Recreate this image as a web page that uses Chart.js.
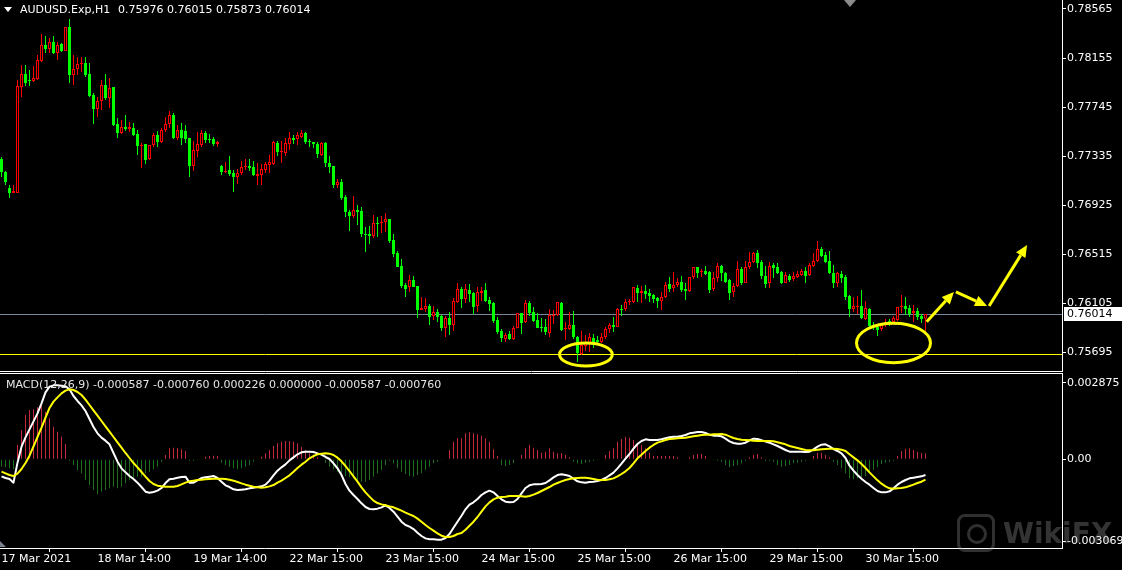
<!DOCTYPE html>
<html><head><meta charset="utf-8">
<script src="https://cdn.jsdelivr.net/npm/chart.js@4.4.1/dist/chart.umd.min.js"></script>
<style>
html,body{margin:0;padding:0;background:#000;overflow:hidden;}
body{width:1122px;height:570px;position:relative;font-family:"DejaVu Sans",sans-serif;}
canvas{position:absolute;left:0;}
#top{top:0;}
#bot{top:372px;}
.t{position:absolute;color:#fff;font-size:11px;line-height:13px;white-space:pre;}
#tri{position:absolute;left:4px;top:7px;width:0;height:0;border-left:4px solid transparent;border-right:4px solid transparent;border-top:5px solid #fff;}
#shift{position:absolute;left:844px;top:0;width:0;height:0;border-left:6px solid transparent;border-right:6px solid transparent;border-top:7px solid #8c8c8c;}
#corner{position:absolute;left:0;top:541px;width:0;height:0;border-bottom:6px solid #7a8290;border-right:6px solid transparent;}
#wm{position:absolute;left:957px;top:514px;opacity:0.3;}
#wm .ico{position:absolute;left:0;top:0;width:32px;height:32px;border:3px solid #a0a0a0;border-radius:8px;}
#wm .ico:after{content:"";position:absolute;left:7px;top:7px;width:14px;height:14px;border:3px solid #a0a0a0;border-radius:50%;}
#wm .w{position:absolute;left:46px;top:3px;font:bold 28px "DejaVu Sans",sans-serif;color:#a8a8a8;white-space:pre;}
</style></head>
<body>
<canvas id="top" width="1122" height="372"></canvas>
<canvas id="bot" width="1122" height="198"></canvas>
<div id="tri"></div>
<div class="t" style="left:20px;top:3px;">AUDUSD.Exp,H1</div>
<div class="t" style="left:118px;top:3px;">0.75976 0.76015 0.75873 0.76014</div>
<div class="t" style="left:6px;top:378px;color:#e6e6e6;">MACD(12,26,9) -0.000587 -0.000760 0.000226 0.000000 -0.000587 -0.000760</div>
<div id="shift"></div>
<div id="corner"></div>
<div id="wm"><div class="ico"></div><div class="w">WikiFX</div></div>
<script>
// ---- AUDUSD H1 candles (17 Mar 2021 14:00 -> 31 Mar 2021) ----
const opens = [0.77311,0.77202,0.77068,0.77026,0.77026,0.77913,0.78021,0.77971,0.77963,0.77980,
0.78130,0.78264,0.78230,0.78289,0.78197,0.78272,0.78214,0.78414,0.78013,0.78063,
0.78105,0.78113,0.78021,0.77846,0.77729,0.77796,0.77929,0.77821,0.77913,0.77603,
0.77528,0.77578,0.77562,0.77570,0.77520,0.77419,0.77436,0.77311,0.77428,0.77511,
0.77453,0.77553,0.77603,0.77679,0.77486,0.77553,0.77545,0.77486,0.77252,0.77378,
0.77428,0.77528,0.77478,0.77478,0.77436,0.77252,0.77202,0.77219,0.77194,0.77160,
0.77194,0.77244,0.77252,0.77244,0.77169,0.77177,0.77219,0.77260,0.77269,0.77445,
0.77369,0.77361,0.77436,0.77486,0.77478,0.77495,0.77528,0.77462,0.77453,0.77436,
0.77344,0.77445,0.77277,0.77252,0.77093,0.77118,0.76993,0.76868,0.76834,0.76884,
0.76876,0.76684,0.76684,0.76667,0.76776,0.76776,0.76784,0.76809,0.76634,0.76525,
0.76416,0.76257,0.76241,0.76299,0.76249,0.76048,0.76057,0.76082,0.75998,0.76032,
0.75998,0.75898,0.75982,0.75923,0.76115,0.76224,0.76140,0.76216,0.76191,0.76082,
0.76191,0.76216,0.76132,0.76107,0.75965,0.75873,0.75806,0.75848,0.75806,0.75898,
0.76023,0.75948,0.76107,0.76032,0.75965,0.75906,0.75906,0.75856,0.75998,0.76007,
0.76107,0.75890,0.75890,0.75923,0.75823,0.75681,0.75747,0.75773,0.75814,0.75798,
0.75781,0.75823,0.75890,0.75923,0.75906,0.76057,0.76057,0.76115,0.76115,0.76232,
0.76191,0.76207,0.76191,0.76174,0.76149,0.76124,0.76157,0.76266,0.76232,0.76257,
0.76282,0.76224,0.76207,0.76324,0.76408,0.76366,0.76375,0.76366,0.76224,0.76316,
0.76416,0.76358,0.76299,0.76199,0.76249,0.76391,0.76274,0.76408,0.76450,0.76525,
0.76450,0.76333,0.76274,0.76425,0.76408,0.76366,0.76274,0.76333,0.76308,0.76324,
0.76341,0.76375,0.76341,0.76416,0.76458,0.76558,0.76508,0.76458,0.76358,0.76274,
0.76350,0.76324,0.76165,0.76057,0.76073,0.76082,0.75973,0.76057,0.75915,0.75906,
0.75890,0.75923,0.75957,0.75948,0.75965,0.76073,0.76082,0.76065,0.76023,0.76040,
0.75998,0.75976];
const highs = [0.77327,0.77210,0.77093,0.77093,0.77971,0.78097,0.78097,0.78055,0.78088,0.78180,
0.78356,0.78339,0.78322,0.78339,0.78289,0.78281,0.78414,0.78481,0.78180,0.78163,
0.78163,0.78163,0.78113,0.77863,0.77829,0.77971,0.78021,0.77988,0.77913,0.77654,
0.77637,0.77679,0.77620,0.77612,0.77553,0.77445,0.77436,0.77428,0.77528,0.77545,
0.77570,0.77662,0.77712,0.77695,0.77595,0.77612,0.77595,0.77486,0.77462,0.77536,
0.77553,0.77545,0.77520,0.77495,0.77462,0.77260,0.77286,0.77336,0.77219,0.77227,
0.77294,0.77311,0.77311,0.77294,0.77277,0.77269,0.77286,0.77344,0.77462,0.77462,
0.77462,0.77486,0.77536,0.77511,0.77536,0.77553,0.77536,0.77478,0.77453,0.77453,
0.77453,0.77453,0.77336,0.77252,0.77144,0.77144,0.77010,0.76884,0.77002,0.76926,
0.76909,0.76742,0.76751,0.76843,0.76826,0.76834,0.76859,0.76809,0.76684,0.76542,
0.76475,0.76274,0.76341,0.76333,0.76249,0.76157,0.76149,0.76099,0.76082,0.76057,
0.76007,0.75998,0.76032,0.76149,0.76274,0.76241,0.76266,0.76266,0.76199,0.76241,
0.76241,0.76274,0.76157,0.76115,0.75990,0.75890,0.75856,0.75873,0.75915,0.76023,
0.76023,0.76132,0.76124,0.76073,0.76023,0.75982,0.75973,0.76057,0.76048,0.76115,
0.76115,0.75948,0.76032,0.76040,0.75831,0.75873,0.75839,0.75856,0.75848,0.75831,
0.75856,0.75906,0.75940,0.75990,0.76065,0.76090,0.76140,0.76140,0.76241,0.76257,
0.76249,0.76257,0.76224,0.76182,0.76157,0.76199,0.76282,0.76324,0.76366,0.76316,
0.76333,0.76274,0.76324,0.76408,0.76408,0.76391,0.76416,0.76375,0.76366,0.76441,
0.76425,0.76366,0.76308,0.76274,0.76458,0.76408,0.76458,0.76533,0.76533,0.76550,
0.76466,0.76416,0.76450,0.76441,0.76441,0.76375,0.76366,0.76350,0.76366,0.76375,
0.76391,0.76408,0.76441,0.76525,0.76625,0.76575,0.76533,0.76542,0.76425,0.76366,
0.76375,0.76341,0.76174,0.76157,0.76165,0.76216,0.76124,0.76065,0.75948,0.75923,
0.75940,0.75973,0.75973,0.75998,0.76073,0.76174,0.76157,0.76090,0.76090,0.76065,
0.76015,0.76015];
const lows = [0.77160,0.77093,0.76985,0.77026,0.77026,0.77829,0.77921,0.77921,0.77954,0.77971,
0.78122,0.78197,0.78197,0.78189,0.78138,0.78205,0.78214,0.77946,0.77929,0.78013,
0.78038,0.77996,0.77829,0.77603,0.77662,0.77720,0.77804,0.77737,0.77587,0.77486,
0.77520,0.77545,0.77536,0.77503,0.77344,0.77236,0.77269,0.77302,0.77411,0.77411,
0.77445,0.77536,0.77570,0.77478,0.77470,0.77428,0.77445,0.77160,0.77210,0.77327,
0.77411,0.77445,0.77445,0.77419,0.77411,0.77177,0.77194,0.77169,0.77035,0.77102,
0.77177,0.77219,0.77210,0.77169,0.77093,0.77093,0.77194,0.77194,0.77260,0.77336,
0.77277,0.77336,0.77386,0.77436,0.77428,0.77486,0.77436,0.77411,0.77403,0.77319,
0.77336,0.77244,0.77194,0.77068,0.77068,0.76968,0.76826,0.76709,0.76818,0.76759,
0.76659,0.76533,0.76600,0.76650,0.76659,0.76692,0.76700,0.76609,0.76491,0.76408,
0.76232,0.76157,0.76199,0.76241,0.75982,0.76048,0.76032,0.75923,0.75965,0.75948,
0.75873,0.75823,0.75839,0.75873,0.76107,0.76065,0.76107,0.76115,0.76015,0.76032,
0.76124,0.76115,0.76040,0.75940,0.75848,0.75781,0.75781,0.75798,0.75798,0.75898,
0.75848,0.75940,0.75998,0.75948,0.75898,0.75864,0.75839,0.75823,0.75932,0.75998,
0.75873,0.75798,0.75881,0.75806,0.75614,0.75672,0.75706,0.75698,0.75731,0.75764,
0.75773,0.75806,0.75856,0.75864,0.75906,0.75998,0.76040,0.76090,0.76107,0.76115,
0.76107,0.76140,0.76115,0.76107,0.76065,0.76048,0.76149,0.76199,0.76199,0.76241,
0.76199,0.76132,0.76199,0.76308,0.76316,0.76324,0.76341,0.76191,0.76207,0.76282,
0.76291,0.76274,0.76132,0.76157,0.76241,0.76257,0.76274,0.76391,0.76441,0.76400,
0.76308,0.76232,0.76232,0.76316,0.76350,0.76266,0.76274,0.76282,0.76291,0.76316,
0.76333,0.76274,0.76333,0.76408,0.76450,0.76491,0.76441,0.76350,0.76232,0.76241,
0.76274,0.76132,0.75990,0.76032,0.76015,0.75973,0.75965,0.75906,0.75881,0.75831,
0.75873,0.75906,0.75915,0.75940,0.75957,0.76023,0.76007,0.75990,0.75948,0.75965,
0.75940,0.75873];
const closes = [0.77202,0.77118,0.77026,0.77043,0.77921,0.78021,0.77946,0.77963,0.77988,0.78138,
0.78264,0.78230,0.78289,0.78197,0.78264,0.78214,0.78414,0.78013,0.78063,0.78105,
0.78113,0.78013,0.77837,0.77729,0.77796,0.77929,0.77821,0.77904,0.77595,0.77528,
0.77578,0.77562,0.77578,0.77511,0.77419,0.77428,0.77302,0.77428,0.77511,0.77453,
0.77553,0.77603,0.77679,0.77486,0.77553,0.77486,0.77478,0.77252,0.77386,0.77436,
0.77528,0.77470,0.77470,0.77436,0.77453,0.77202,0.77210,0.77185,0.77160,0.77194,
0.77244,0.77252,0.77236,0.77177,0.77185,0.77227,0.77269,0.77286,0.77453,0.77369,
0.77378,0.77445,0.77486,0.77470,0.77511,0.77528,0.77453,0.77453,0.77436,0.77352,
0.77445,0.77277,0.77244,0.77093,0.77118,0.76985,0.76868,0.76834,0.76884,0.76868,
0.76684,0.76675,0.76667,0.76776,0.76767,0.76784,0.76809,0.76625,0.76516,0.76408,
0.76249,0.76224,0.76299,0.76241,0.76048,0.76065,0.76082,0.75990,0.76032,0.75990,
0.75898,0.75982,0.75923,0.76124,0.76224,0.76140,0.76224,0.76182,0.76073,0.76199,
0.76207,0.76124,0.76098,0.75956,0.75864,0.75814,0.75839,0.75806,0.75898,0.76023,
0.75940,0.76107,0.76023,0.75956,0.75898,0.75898,0.75864,0.76007,0.76007,0.76115,
0.75881,0.75898,0.75923,0.75823,0.75689,0.75756,0.75773,0.75823,0.75773,0.75781,
0.75823,0.75890,0.75923,0.75906,0.76057,0.76048,0.76115,0.76124,0.76241,0.76191,
0.76207,0.76182,0.76165,0.76140,0.76124,0.76157,0.76257,0.76224,0.76257,0.76282,
0.76216,0.76207,0.76324,0.76408,0.76358,0.76375,0.76350,0.76216,0.76316,0.76416,
0.76358,0.76282,0.76191,0.76249,0.76391,0.76274,0.76408,0.76450,0.76525,0.76441,
0.76333,0.76266,0.76416,0.76400,0.76358,0.76274,0.76341,0.76299,0.76333,0.76350,
0.76375,0.76333,0.76425,0.76458,0.76558,0.76500,0.76450,0.76358,0.76274,0.76358,
0.76316,0.76157,0.76057,0.76082,0.76082,0.75982,0.76065,0.75915,0.75906,0.75881,
0.75923,0.75948,0.75948,0.75982,0.76073,0.76082,0.76057,0.76015,0.76040,0.75990,
0.75973,0.76014];

// ---- MACD(12,26,9) pane: main line, signal line, histogram ----
const macdLine = [-0.000638,-0.000700,-0.000738,-0.000875,-0.000125,0.000475,0.000825,0.001125,0.001425,0.001725,
0.002100,0.002513,0.002725,0.002775,0.002775,0.002763,0.002738,0.002625,0.002375,0.002188,
0.002025,0.001813,0.001513,0.001213,0.000975,0.000813,0.000700,0.000563,0.000238,-0.000088,
-0.000338,-0.000488,-0.000625,-0.000738,-0.000875,-0.001038,-0.001213,-0.001250,-0.001225,-0.001175,
-0.001075,-0.000888,-0.000750,-0.000725,-0.000688,-0.000663,-0.000650,-0.000875,-0.000875,-0.000788,
-0.000700,-0.000675,-0.000650,-0.000625,-0.000700,-0.000838,-0.000975,-0.001038,-0.001125,-0.001150,
-0.001138,-0.001125,-0.001088,-0.001063,-0.001038,-0.001013,-0.000950,-0.000800,-0.000600,-0.000425,
-0.000300,-0.000188,-0.000038,0.000075,0.000188,0.000263,0.000288,0.000288,0.000275,0.000225,
0.000175,0.000088,0.000013,-0.000150,-0.000338,-0.000588,-0.000925,-0.001175,-0.001338,-0.001488,
-0.001650,-0.001788,-0.001863,-0.001875,-0.001850,-0.001800,-0.001725,-0.001825,-0.001963,-0.002150,
-0.002338,-0.002463,-0.002525,-0.002613,-0.002750,-0.002875,-0.002963,-0.003000,-0.003000,-0.003013,
-0.003013,-0.002950,-0.002800,-0.002563,-0.002338,-0.002113,-0.001875,-0.001700,-0.001613,-0.001488,
-0.001338,-0.001238,-0.001175,-0.001238,-0.001375,-0.001500,-0.001588,-0.001613,-0.001600,-0.001488,
-0.001275,-0.001075,-0.000975,-0.000938,-0.000938,-0.000925,-0.000888,-0.000788,-0.000675,-0.000588,
-0.000563,-0.000588,-0.000625,-0.000725,-0.000825,-0.000863,-0.000875,-0.000850,-0.000838,-0.000813,
-0.000775,-0.000700,-0.000600,-0.000500,-0.000338,-0.000163,0.000025,0.000200,0.000400,0.000575,
0.000688,0.000750,0.000725,0.000725,0.000725,0.000750,0.000788,0.000825,0.000850,0.000850,
0.000875,0.000913,0.000975,0.001000,0.001025,0.001025,0.000988,0.000925,0.000888,0.000888,
0.000863,0.000775,0.000675,0.000613,0.000588,0.000588,0.000625,0.000713,0.000775,0.000763,
0.000713,0.000663,0.000625,0.000563,0.000500,0.000425,0.000350,0.000288,0.000288,0.000288,
0.000288,0.000275,0.000288,0.000375,0.000475,0.000550,0.000563,0.000488,0.000388,0.000313,
0.000225,0.000050,-0.000238,-0.000425,-0.000588,-0.000725,-0.000850,-0.000950,-0.001075,-0.001188,
-0.001238,-0.001238,-0.001200,-0.001088,-0.000950,-0.000850,-0.000775,-0.000713,-0.000688,-0.000663,
-0.000638,-0.000587];
const signalLine = [-0.000463,-0.000525,-0.000588,-0.000625,-0.000538,-0.000363,-0.000138,0.000138,0.000488,0.000838,
0.001188,0.001563,0.001925,0.002163,0.002325,0.002475,0.002575,0.002625,0.002600,0.002525,
0.002413,0.002238,0.002038,0.001838,0.001638,0.001438,0.001238,0.001038,0.000838,0.000638,
0.000438,0.000238,0.000050,-0.000138,-0.000300,-0.000475,-0.000650,-0.000813,-0.000925,-0.000988,
-0.001013,-0.001025,-0.001025,-0.001025,-0.001000,-0.000938,-0.000875,-0.000825,-0.000800,-0.000775,
-0.000763,-0.000750,-0.000738,-0.000725,-0.000725,-0.000725,-0.000738,-0.000763,-0.000800,-0.000850,
-0.000900,-0.000950,-0.000988,-0.001025,-0.001050,-0.001063,-0.001050,-0.001013,-0.000963,-0.000875,
-0.000800,-0.000700,-0.000600,-0.000463,-0.000325,-0.000200,-0.000088,0.000038,0.000125,0.000188,
0.000213,0.000225,0.000213,0.000163,0.000063,-0.000075,-0.000250,-0.000438,-0.000638,-0.000838,
-0.001050,-0.001238,-0.001400,-0.001550,-0.001638,-0.001688,-0.001725,-0.001763,-0.001800,-0.001863,
-0.001925,-0.002000,-0.002063,-0.002125,-0.002225,-0.002338,-0.002463,-0.002575,-0.002675,-0.002775,
-0.002863,-0.002913,-0.002913,-0.002875,-0.002800,-0.002763,-0.002638,-0.002488,-0.002338,-0.002163,
-0.001963,-0.001763,-0.001613,-0.001500,-0.001438,-0.001413,-0.001400,-0.001375,-0.001375,-0.001375,
-0.001388,-0.001400,-0.001375,-0.001325,-0.001263,-0.001188,-0.001113,-0.001038,-0.000950,-0.000888,
-0.000825,-0.000775,-0.000738,-0.000713,-0.000700,-0.000688,-0.000688,-0.000713,-0.000738,-0.000763,
-0.000775,-0.000775,-0.000750,-0.000713,-0.000638,-0.000550,-0.000450,-0.000325,-0.000150,0.000038,
0.000175,0.000313,0.000438,0.000538,0.000625,0.000675,0.000725,0.000763,0.000775,0.000788,
0.000800,0.000813,0.000838,0.000863,0.000888,0.000913,0.000925,0.000925,0.000938,0.000938,
0.000950,0.000925,0.000863,0.000800,0.000763,0.000738,0.000725,0.000713,0.000700,0.000688,
0.000688,0.000688,0.000688,0.000675,0.000638,0.000600,0.000563,0.000500,0.000463,0.000425,
0.000388,0.000350,0.000338,0.000338,0.000363,0.000375,0.000388,0.000400,0.000400,0.000388,
0.000363,0.000313,0.000188,0.000075,-0.000038,-0.000175,-0.000325,-0.000488,-0.000638,-0.000788,
-0.000913,-0.001013,-0.001088,-0.001100,-0.001088,-0.001075,-0.001050,-0.001000,-0.000950,-0.000888,
-0.000838,-0.000760];
const histogram = [-0.000275,-0.000300,-0.000338,-0.000375,0.000538,0.001100,0.001663,0.001850,0.001875,0.001950,
0.002000,0.001788,0.001538,0.001225,0.001038,0.000850,0.000575,-0.000050,-0.000213,-0.000400,
-0.000525,-0.000775,-0.000963,-0.001150,-0.001313,-0.001213,-0.001150,-0.001088,-0.001025,-0.001088,
-0.001025,-0.000900,-0.000775,-0.000713,-0.000650,-0.000650,-0.000525,-0.000463,-0.000375,-0.000275,
-0.000088,0.000163,0.000413,0.000438,0.000413,0.000375,0.000313,-0.000050,-0.000050,-0.000025,
0.000000,0.000100,0.000125,0.000138,0.000125,-0.000125,-0.000213,-0.000275,-0.000338,-0.000375,
-0.000338,-0.000275,-0.000213,-0.000088,0.000000,0.000100,0.000225,0.000350,0.000500,0.000600,
0.000663,0.000688,0.000688,0.000663,0.000600,0.000475,0.000350,0.000225,0.000125,0.000075,
0.000025,-0.000125,-0.000275,-0.000375,-0.000463,-0.000525,-0.000625,-0.000675,-0.000713,-0.000775,
-0.000838,-0.000838,-0.000775,-0.000650,-0.000525,-0.000400,-0.000213,-0.000050,-0.000150,-0.000338,
-0.000463,-0.000550,-0.000625,-0.000650,-0.000588,-0.000525,-0.000400,-0.000275,-0.000150,-0.000088,
-0.000025,0.000000,0.000350,0.000663,0.000788,0.000788,0.000975,0.001013,0.000975,0.000938,
0.000888,0.000788,0.000663,0.000375,0.000125,-0.000213,-0.000250,-0.000213,-0.000150,0.000000,
0.000163,0.000413,0.000538,0.000438,0.000350,0.000250,0.000288,0.000413,0.000288,0.000225,
0.000225,0.000163,0.000075,-0.000088,-0.000150,-0.000175,-0.000125,-0.000088,-0.000050,-0.000025,
0.000000,0.000163,0.000313,0.000413,0.000663,0.000763,0.000850,0.000813,0.000725,0.000625,
0.000538,0.000413,0.000250,0.000125,0.000125,0.000125,0.000125,0.000125,0.000125,0.000075,
0.000025,0.000025,0.000075,0.000163,0.000200,0.000200,0.000125,-0.000025,-0.000025,-0.000050,
-0.000088,-0.000213,-0.000300,-0.000250,-0.000213,-0.000150,-0.000050,0.000075,0.000163,0.000200,
0.000075,-0.000050,-0.000050,-0.000088,-0.000213,-0.000275,-0.000250,-0.000213,-0.000150,-0.000125,
-0.000088,-0.000050,-0.000025,0.000125,0.000250,0.000250,0.000163,0.000075,-0.000088,-0.000213,
-0.000338,-0.000525,-0.000713,-0.000750,-0.000713,-0.000675,-0.000625,-0.000525,-0.000400,-0.000300,
-0.000175,-0.000125,-0.000088,-0.000050,0.000125,0.000313,0.000388,0.000413,0.000350,0.000288,
0.000250,0.000226];

// ---- axis ticks / labels ----
const priceTicks = [0.75695,0.76105,0.76515,0.76925,0.77335,0.77745,0.78155,0.78565];
const macdTicks = [0.002875,0.0,-0.003069];
const macdTickLabels = ["0.002875","0.00","-0.003069"];
const timeTickBars = [0,24,48,72,96,120,144,168,192,216];
const timeTickLabels = ["17 Mar 2021","18 Mar 14:00","19 Mar 14:00","22 Mar 15:00","23 Mar 15:00","24 Mar 15:00","25 Mar 15:00","26 Mar 15:00","29 Mar 15:00","30 Mar 15:00"];

// ---- user drawn objects (bar index, price) ----
const levelLinePrice = 0.75676;
const ellipseBar = [146.1, 223.0];
const ellipsePrice = [0.75676, 0.75773];
const ellipseHalfBars = [6.6, 9.25];
const ellipseHalfPrice = [0.00096, 0.00165];
const arrowFromBar = [231.3, 238.6, 246.9];
const arrowFromPrice = [0.75951, 0.76199, 0.76082];
const arrowToBar = [238.1, 246.4, 256.4];
const arrowToPrice = [0.76199, 0.76082, 0.76592];

Chart.defaults.font.family = '"DejaVu Sans", sans-serif';
Chart.defaults.font.size = 11;
Chart.defaults.color = '#ffffff';

const N = closes.length;
const idx = closes.map((_, i) => i);
const isBull = i => closes[i] >= opens[i];
const BULL = '#ff0000', BEAR = '#00ff00';
const X_MIN = -0.375, X_MAX = 265.125;
const FONT = {family:'"DejaVu Sans", sans-serif', size:11};
const noPadY = s => { s.width = 60; s.paddingTop = 0; s.paddingBottom = 0; };
const noPadX = h => s => { s.height = h; s.paddingLeft = 0; s.paddingRight = 0; };

const topDecor = {
  id:'topDecor',
  beforeDatasetsDraw(chart){
    const {ctx, chartArea:a, scales:{y}} = chart;
    ctx.save();
    const hl = (v,c)=>{const yy=Math.floor(y.getPixelForValue(v))+0.5;ctx.strokeStyle=c;ctx.lineWidth=1;ctx.beginPath();ctx.moveTo(a.left,yy);ctx.lineTo(a.right,yy);ctx.stroke();};
    hl(levelLinePrice,'#ffff00');
    hl(closes[N-1],'#778899');
    ctx.restore();
  },
  afterDatasetsDraw(chart){
    const {ctx, scales:{x,y}} = chart;
    ctx.save();
    ctx.strokeStyle='#ffff00'; ctx.fillStyle='#ffff00'; ctx.lineWidth=3;
    for(let k=0;k<ellipseBar.length;k++){
      const cx=x.getPixelForValue(ellipseBar[k]), cy=y.getPixelForValue(ellipsePrice[k]);
      const rx=Math.abs(x.getPixelForValue(ellipseBar[k]+ellipseHalfBars[k])-cx);
      const ry=Math.abs(y.getPixelForValue(ellipsePrice[k]+ellipseHalfPrice[k])-cy);
      ctx.beginPath(); ctx.ellipse(cx,cy,rx,ry,0,0,Math.PI*2); ctx.stroke();
    }
    for(let k=0;k<arrowFromBar.length;k++){
      const x0=x.getPixelForValue(arrowFromBar[k]), y0=y.getPixelForValue(arrowFromPrice[k]);
      const x1=x.getPixelForValue(arrowToBar[k]), y1=y.getPixelForValue(arrowToPrice[k]);
      const d=Math.hypot(x1-x0,y1-y0), ux=(x1-x0)/d, uy=(y1-y0)/d;
      const L=12, W=5.5, bx=x1-ux*L, by=y1-uy*L;
      ctx.beginPath(); ctx.moveTo(x0,y0); ctx.lineTo(bx,by); ctx.stroke();
      ctx.beginPath(); ctx.moveTo(x1,y1); ctx.lineTo(bx-uy*W,by+ux*W); ctx.lineTo(bx+uy*W,by-ux*W); ctx.closePath(); ctx.fill();
    }
    ctx.restore();
  },
  afterDraw(chart){
    const {ctx, chartArea:a, scales:{y}} = chart;
    ctx.save();
    ctx.strokeStyle='#fff'; ctx.lineWidth=1;
    ctx.beginPath(); ctx.moveTo(0,a.bottom+0.5); ctx.lineTo(a.right+1,a.bottom+0.5); ctx.stroke();
    const yy=Math.round(y.getPixelForValue(closes[N-1]));
    ctx.fillStyle='#fff'; ctx.fillRect(a.right+2,yy-7,58,14);
    ctx.fillStyle='#000'; ctx.font='11px "DejaVu Sans"'; ctx.textBaseline='middle'; ctx.textAlign='left';
    ctx.fillText(closes[N-1].toFixed(5), a.right+5, yy+0.5);
    ctx.restore();
  }
};

new Chart(document.getElementById('top'), {
  type:'bar',
  data:{datasets:[
    {data: idx.map(i=>({x:i,y:[lows[i],highs[i]]})), backgroundColor: idx.map(i=>isBull(i)?BULL:BEAR),
     borderWidth:0, barThickness:1, grouped:false, order:2, inflateAmount:0},
    {data: idx.map(i=>({x:i,y:[opens[i],closes[i]]})), backgroundColor: idx.map(i=>isBull(i)?'#000000':BEAR),
     borderColor: idx.map(i=>isBull(i)?BULL:BEAR), borderWidth:1, borderSkipped:false, barThickness:3,
     grouped:false, order:1, minBarLength:1, inflateAmount:0}
  ]},
  options:{
    responsive:false, animation:false, devicePixelRatio:1,
    layout:{padding:{left:0,right:0,top:0,bottom:1}},
    plugins:{legend:{display:false}, tooltip:{enabled:false}},
    scales:{
      x:{type:'linear', min:X_MIN, max:X_MAX, display:false, offset:false},
      y:{position:'right', min:0.755384, max:0.78640, bounds:'data',
         afterBuildTicks:s=>{s.ticks=priceTicks.map(v=>({value:v}));},
         afterFit:noPadY,
         grid:{drawOnChartArea:false, drawTicks:true, tickLength:4, color:'#ffffff'},
         border:{display:true, color:'#ffffff'},
         ticks:{color:'#ffffff', font:FONT, padding:1, autoSkip:false, callback:v=>Number(v).toFixed(5)}}
    }
  },
  plugins:[topDecor]
});

const botDecor = {
  id:'botDecor',
  afterDraw(chart){
    const {ctx, chartArea:a} = chart;
    ctx.save(); ctx.strokeStyle='#fff'; ctx.lineWidth=1;
    ctx.beginPath(); ctx.moveTo(0,a.top-0.5); ctx.lineTo(a.right+1,a.top-0.5); ctx.stroke();
    ctx.restore();
  }
};

new Chart(document.getElementById('bot'), {
  data:{datasets:[
    {type:'bar', data: idx.map(i=>({x:i,y:histogram[i]})), backgroundColor: idx.map(i=>histogram[i]>=0?'#c8283e':'#1f6e1f'),
     borderWidth:0, barThickness:1, grouped:false, order:3, inflateAmount:0},
    {type:'line', data: idx.map(i=>({x:i,y:macdLine[i]})), borderColor:'#ffffff', borderWidth:2, pointRadius:0,
     tension:0, order:2, borderJoinStyle:'round'},
    {type:'line', data: idx.map(i=>({x:i,y:signalLine[i]})), borderColor:'#ffff00', borderWidth:2, pointRadius:0,
     tension:0, order:1, borderJoinStyle:'round'}
  ]},
  options:{
    responsive:false, animation:false, devicePixelRatio:1,
    layout:{padding:{left:0,right:0,top:2,bottom:0}},
    plugins:{legend:{display:false}, tooltip:{enabled:false}},
    scales:{
      x:{type:'linear', min:X_MIN, max:X_MAX, offset:false, bounds:'data',
         afterBuildTicks:s=>{s.ticks=timeTickBars.map(v=>({value:v}));},
         afterFit:noPadX(22),
         grid:{drawOnChartArea:false, drawTicks:true, tickLength:4, color:'#ffffff'},
         border:{display:true, color:'#ffffff'},
         ticks:{align:'start', color:'#ffffff', font:FONT, padding:1, maxRotation:0, minRotation:0, autoSkip:false,
                callback:(v,k)=>timeTickLabels[k]}},
      y:{position:'right', min:-0.003325, max:0.0032, bounds:'data',
         afterBuildTicks:s=>{s.ticks=macdTicks.map(v=>({value:v}));},
         afterFit:noPadY,
         grid:{drawOnChartArea:false, drawTicks:true, tickLength:4, color:'#ffffff'},
         border:{display:true, color:'#ffffff'},
         ticks:{color:'#ffffff', font:FONT, padding:1, autoSkip:false, callback:(v,k)=>macdTickLabels[k]}}
    }
  },
  plugins:[botDecor]
});
</script>
</body></html>
